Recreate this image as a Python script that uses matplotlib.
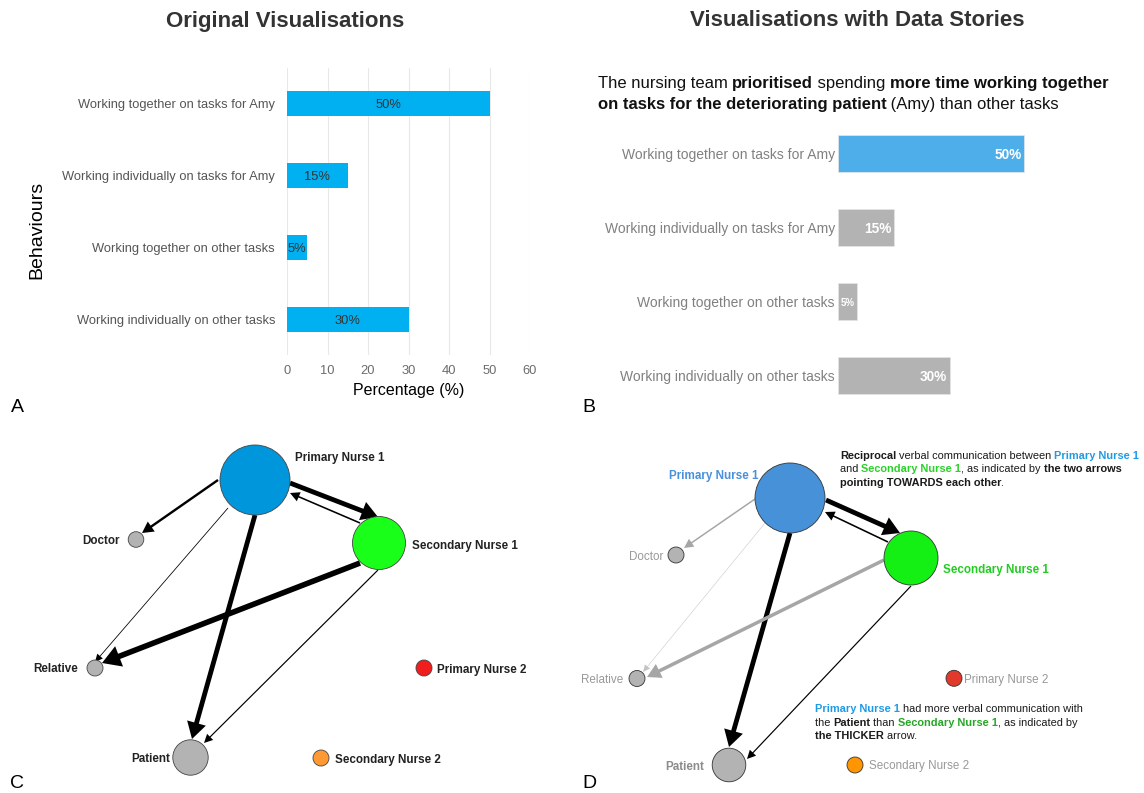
import matplotlib

matplotlib.use("Agg")
import matplotlib.pyplot as plt
from matplotlib.font_manager import FontProperties
from matplotlib.patches import Circle, FancyArrowPatch

W, H = 1144, 793
FONT = "Liberation Sans"

# ---- bar chart data (panels A and B)
behaviours = ["Working together on tasks for Amy", "Working individually on tasks for Amy",
              "Working together on other tasks", "Working individually on other tasks"]
percent = [50, 15, 5, 30]

# ---- communication network (panels C and D)
nodes = ["Primary Nurse 1", "Secondary Nurse 1", "Doctor", "Relative", "Patient",
         "Primary Nurse 2", "Secondary Nurse 2"]
c_node_x = [255, 379, 136, 95, 190.5, 424, 321]
c_node_y = [480, 543, 539.5, 668, 757.5, 668, 758]
c_node_r = [35, 26.5, 7.8, 8, 17.7, 8, 8]
d_node_x = [790, 911, 676, 637, 729, 954, 855]
d_node_y = [498, 558, 555, 678.5, 765, 678.3, 765]
d_node_r = [35, 27, 8, 8, 16.8, 8, 8]

edge_src = [0, 0, 1, 0, 0, 1, 1]
edge_dst = [2, 1, 0, 3, 4, 3, 4]
edge_weight = [3, 6, 2, 1, 6, 7, 1.5]
c_edge_x0 = [218, 290, 360, 228, 255, 360, 378]
c_edge_y0 = [480, 483, 523, 508, 515, 563, 570]
c_edge_x1 = [142, 378, 290, 95, 192, 102, 204]
c_edge_y1 = [533, 517, 493, 662, 739, 663, 743]
d_edge_x0 = [755, 826, 888, 765, 790, 884, 911]
d_edge_y0 = [499, 500, 542, 523, 533, 560, 586]
d_edge_x1 = [684, 900, 825, 643, 729, 647, 747]
d_edge_y1 = [548, 533, 512, 672, 747, 677, 759]

plt.rcParams["font.family"] = FONT
fig = plt.figure(figsize=(W / 100, H / 100), dpi=100)
renderer = fig.canvas.get_renderer()


def px_axes(left, top, width, height):
    return fig.add_axes([left / W, 1 - (top + height) / H, width / W, height / H])


def text_w(s, size, weight):
    fp = FontProperties(family=FONT, size=size, weight=weight)
    w1 = renderer.get_text_width_height_descent("|" + s + "|", fp, ismath=False)[0]
    w0 = renderer.get_text_width_height_descent("||", fp, ismath=False)[0]
    return w1 - w0


def rich(ax, x, y, parts, size):
    for s, weight, color in parts:
        ax.text(x, y, s, fontsize=size, fontweight=weight, color=color,
                ha="left", va="center_baseline")
        x += text_w(s, size, weight)


def arrow(ax, p0, p1, w_px, color):
    pt = 0.72
    hl = (6 + 2.2 * w_px) * pt
    hw = (5 + 3.0 * w_px) * pt
    style = f"simple,head_length={hl:.2f},head_width={hw:.2f},tail_width={w_px * pt:.2f}"
    ax.add_patch(FancyArrowPatch(p0, p1, arrowstyle=style, mutation_scale=1,
                                 color=color, lw=0, shrinkA=0, shrinkB=0, zorder=2))


# ---- overlay in pixel coordinates for titles and panel letters
ov = fig.add_axes([0, 0, 1, 1])
ov.set_xlim(0, W)
ov.set_ylim(H, 0)
ov.axis("off")
ov.text(285, 18.5, "Original Visualisations", ha="center", va="center_baseline",
        fontsize=16, fontweight="bold", color="#333333")
ov.text(857, 18.5, "Visualisations with Data Stories", ha="center", va="center_baseline",
        fontsize=16, fontweight="bold", color="#333333")
for lab, x, y in [("A", 17, 405), ("B", 589, 405), ("C", 17, 781), ("D", 589, 781)]:
    ov.text(x, y, lab, ha="center", va="center_baseline", fontsize=14, color="black")

# ---- A: original bar chart
axA = px_axes(287, 68, 243, 287)
ypos = list(range(len(behaviours)))
axA.barh(ypos, percent, height=0.35, color="#00b0f0", zorder=2)
for i, v in enumerate(percent):
    axA.text(v / 2, i, f"{v}%", ha="center", va="center_baseline", fontsize=9.3, color="#333333")
axA.set_xlim(0, 60)
axA.set_ylim(3.5, -0.5)
axA.set_xticks(range(0, 61, 10))
axA.set_yticks(ypos, behaviours)
axA.grid(axis="x", color="#e8e8e8", lw=0.8, zorder=0)
axA.set_axisbelow(True)
for s in axA.spines.values():
    s.set_visible(False)
axA.tick_params(axis="x", length=0, pad=7, labelsize=9.3, labelcolor="#6b6b6b")
axA.tick_params(axis="y", length=0, pad=8.6, labelsize=9.3, labelcolor="#555555")
axA.set_xlabel("Percentage (%)", fontsize=11.5, color="black")
axA.set_ylabel("Behaviours", fontsize=14, color="black")
axA.xaxis.set_label_coords(0.502, -0.122)
axA.xaxis.label.set_va("center")
axA.yaxis.set_label_coords(-1.029, 0.4355)
axA.yaxis.label.set_va("center")

# ---- B: data story bar chart
rich(ov, 597.5, 82.3, [("The nursing team ", "normal", "#111111"),
                       ("prioritised", "bold", "#111111"),
                       (" spending ", "normal", "#111111"),
                       ("more time working together", "bold", "#111111")], 12)
rich(ov, 597.5, 102.7, [("on tasks for the deteriorating patient", "bold", "#111111"),
                        (" (Amy) than other tasks", "normal", "#111111")], 12)
axB = px_axes(838, 116, 223, 297)
colsB = ["#4eaeea"] + ["#b3b3b3"] * (len(percent) - 1)
axB.barh(ypos, percent, height=0.5, color=colsB, edgecolor="#e6e6e6", lw=0.5)
for i, v in enumerate(percent):
    axB.text(v - 0.6, i, f"{v}%", ha="right", va="center_baseline",
             fontsize=9.8 if v >= 10 else 7, fontweight="bold", color="white")
axB.set_xlim(0, 60)
axB.set_ylim(3.5, -0.5)
axB.set_xticks([])
axB.set_yticks(ypos, behaviours)
for s in axB.spines.values():
    s.set_visible(False)
axB.tick_params(axis="y", length=0, pad=2.2, labelsize=10, labelcolor="#808080")

# ---- C: original network
axC = px_axes(0, 420, 572, 373)
axC.set_xlim(0, 572)
axC.set_ylim(793, 420)
axC.axis("off")
for k in range(len(edge_src)):
    arrow(axC, (c_edge_x0[k], c_edge_y0[k]), (c_edge_x1[k], c_edge_y1[k]),
          edge_weight[k] * 0.8, "black")
c_cols = ["#0096db", "#1aff1a", "#b3b3b3", "#b3b3b3", "#b3b3b3", "#f21d1d", "#ff9933"]
for i in range(len(nodes)):
    axC.add_patch(Circle((c_node_x[i], c_node_y[i]), c_node_r[i], facecolor=c_cols[i],
                         edgecolor="#444444", lw=0.6, zorder=3))
c_lab = {0: (40, -23, "left"), 1: (33, 1, "left"), 2: (-16, 0, "right"), 3: (-16.5, 0, "right"),
         4: (-20.5, 0, "right"), 5: (13, 0, "left"), 6: (14, 0, "left")}
for i, (dx, dy, ha) in c_lab.items():
    axC.text(c_node_x[i] + dx, c_node_y[i] + dy, nodes[i], ha=ha, va="center_baseline",
             fontsize=8.4, fontweight="bold", color="#222222")

# ---- D: network with data story
axD = px_axes(572, 420, 572, 373)
axD.set_xlim(572, 1144)
axD.set_ylim(793, 420)
axD.axis("off")
muted = {0: "#a6a6a6", 3: "#c4c4c4", 5: "#a6a6a6"}
for k in range(len(edge_src)):
    w = edge_weight[k] * (0.5 if k in muted else 0.8)
    arrow(axD, (d_edge_x0[k], d_edge_y0[k]), (d_edge_x1[k], d_edge_y1[k]),
          w, muted.get(k, "black"))
d_cols = ["#4691d8", "#14f014", "#b3b3b3", "#b3b3b3", "#b3b3b3", "#e23a2a", "#ff9500"]
for i in range(len(nodes)):
    axD.add_patch(Circle((d_node_x[i], d_node_y[i]), d_node_r[i], facecolor=d_cols[i],
                         edgecolor="#333333", lw=0.6, zorder=3))
d_lab = {0: (-31.5, -23.3, "right", "bold", "#4a90da"),
         1: (32, 10.7, "left", "bold", "#22cc22"),
         2: (-13, 0, "right", "normal", "#999999"),
         3: (-14, 0, "right", "normal", "#999999"),
         4: (-25, 0, "right", "bold", "#8c8c8c"),
         5: (10.4, 0, "left", "normal", "#999999"),
         6: (14, 0, "left", "normal", "#999999")}
for i, (dx, dy, ha, fw, col) in d_lab.items():
    axD.text(d_node_x[i] + dx, d_node_y[i] + dy, nodes[i], ha=ha, va="center_baseline",
             fontsize=8.4, fontweight=fw, color=col)

K, BLUE, GREEN, GREEN2 = "#1a1a1a", "#1e9be6", "#2ad22a", "#26a626"
rich(axD, 840, 455, [("Reciprocal", "bold", K), (" verbal communication between ", "normal", K),
                     ("Primary Nurse 1", "bold", BLUE)], 7.9)
rich(axD, 840, 468.3, [("and ", "normal", K), ("Secondary Nurse 1", "bold", GREEN),
                       (", as indicated by ", "normal", K), ("the two arrows", "bold", K)], 7.9)
rich(axD, 840, 481.7, [("pointing TOWARDS each other", "bold", K), (".", "normal", K)], 7.9)
rich(axD, 815, 708.3, [("Primary Nurse 1", "bold", BLUE),
                       (" had more verbal communication with", "normal", K)], 7.9)
rich(axD, 815, 721.7, [("the ", "normal", K), ("Patient", "bold", K), (" than ", "normal", K),
                       ("Secondary Nurse 1", "bold", GREEN2), (", as indicated by", "normal", K)], 7.9)
rich(axD, 815, 735, [("the THICKER", "bold", K), (" arrow.", "normal", K)], 7.9)

fig.savefig("out.png", dpi=100)
